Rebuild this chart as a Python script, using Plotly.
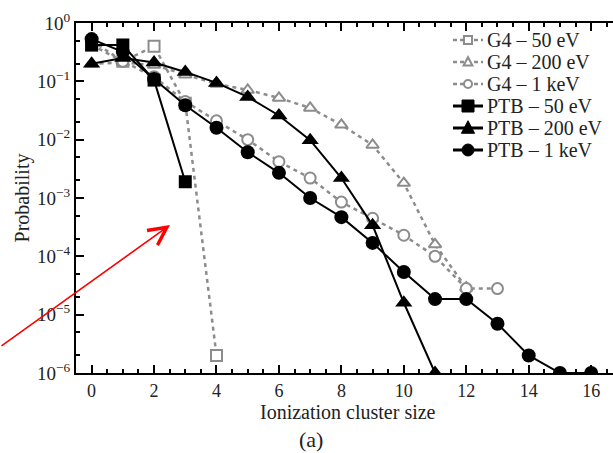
import plotly.graph_objects as go

# ---- data ----
g4_50_x = [0, 1, 2, 3, 4]
g4_50_y = [0.42, 0.22, 0.40, 0.042, 2e-6]

g4_200_x = [0, 1, 2, 3, 4, 5, 6, 7, 8, 9, 10, 11, 12]
g4_200_y = [0.2, 0.21, 0.19, 0.13, 0.09, 0.071, 0.052, 0.035, 0.018, 0.0081, 0.0018, 1.6e-4, 2.9e-5]

g4_1k_x = [0, 1, 2, 3, 4, 5, 6, 7, 8, 9, 10, 11, 12, 13]
g4_1k_y = [0.5, 0.22, 0.12, 0.045, 0.021, 0.0100, 0.0042, 0.0022, 8.5e-4, 4.5e-4, 2.3e-4, 1.0e-4, 2.8e-5, 2.8e-5]

ptb_50_x = [0, 1, 2, 3]
ptb_50_y = [0.42, 0.42, 0.105, 0.0019]

ptb_200_x = [0, 1, 2, 3, 4, 5, 6, 7, 8, 9, 10, 11]
ptb_200_y = [0.2, 0.25, 0.21, 0.145, 0.094, 0.054, 0.026, 0.0098, 0.0022, 3.4e-4, 1.6e-5, 1e-6]

ptb_1k_x = [0, 1, 2, 3, 4, 5, 6, 7, 8, 9, 10, 11, 12, 13, 14, 15, 16]
ptb_1k_y = [0.53, 0.32, 0.11, 0.039, 0.016, 0.0061, 0.0027, 0.00100, 4.7e-4, 1.7e-4, 5.4e-5, 1.85e-5, 1.85e-5, 7e-6, 2e-6, 1e-6, 1e-6]

series_names = ["G4 – 50 eV", "G4 – 200 eV", "G4 – 1 keV",
                "PTB – 50 eV", "PTB – 200 eV", "PTB – 1 keV"]

x_tickvals = [0, 2, 4, 6, 8, 10, 12, 14, 16]
y_tickvals = [1e-6, 1e-5, 1e-4, 1e-3, 1e-2, 1e-1, 1]
y_ticktext = ["10<sup>−6</sup>", "10<sup>−5</sup>", "10<sup>−4</sup>", "10<sup>−3</sup>",
              "10<sup>−2</sup>", "10<sup>−1</sup>", "10<sup>0</sup>"]

GRAY = "#8c8c8c"
FONT = "Liberation Serif"
TXT = "#222"

# plot area geometry (pixels) used to place the hand-made legend
L, T, W, H = 76, 23, 537, 350

def px_x(p):
    return (p - L) / W

def px_y(p):
    return (T + H - p) / H

fig = go.Figure()

def g4(x, y, name, symbol):
    fig.add_trace(go.Scatter(
        x=x, y=y, name=name, mode="lines+markers", showlegend=False,
        line=dict(color=GRAY, width=2.5, dash="4px,4px"),
        marker=dict(symbol=symbol, size=11, color="white",
                    line=dict(color=GRAY, width=2)),
    ))

def ptb(x, y, name, symbol, size):
    fig.add_trace(go.Scatter(
        x=x, y=y, name=name, mode="lines+markers", showlegend=False,
        line=dict(color="black", width=2),
        marker=dict(symbol=symbol, size=size, color="black"),
    ))

g4(g4_50_x, g4_50_y, series_names[0], "square")
g4(g4_200_x, g4_200_y, series_names[1], "triangle-up")
g4(g4_1k_x, g4_1k_y, series_names[2], "circle")
ptb(ptb_50_x, ptb_50_y, series_names[3], "square", 13)
ptb(ptb_200_x, ptb_200_y, series_names[4], "triangle-up", 15)
ptb(ptb_1k_x, ptb_1k_y, series_names[5], "circle", 14)

fig.update_layout(
    width=613, height=453,
    margin=dict(l=L, r=613 - L - W, t=T, b=453 - T - H),
    paper_bgcolor="white", plot_bgcolor="white",
    font=dict(family=FONT, size=19, color=TXT),
    showlegend=False,
    xaxis=dict(
        range=[-0.5, 16.7], tickvals=x_tickvals,
        ticks="inside", ticklen=8, tickwidth=1.5, tickcolor="black",
        showline=True, linecolor="black", linewidth=2, mirror="ticks",
        showgrid=False, zeroline=False,
        minor=dict(dtick=0.5, ticks="inside", ticklen=4, tickcolor="black", showgrid=False),
        tickfont=dict(size=18),
    ),
    yaxis=dict(
        type="log", range=[-6, 0], tickvals=y_tickvals, ticktext=y_ticktext,
        ticks="inside", ticklen=8, tickwidth=1.5, tickcolor="black",
        showline=True, linecolor="black", linewidth=2,
        showgrid=False, zeroline=False,
        minor=dict(ticks="inside", ticklen=4, tickcolor="black", showgrid=False),
        title=dict(text="Probability", font=dict(size=20), standoff=2),
        tickfont=dict(size=19),
    ),
)

# x-axis title and panel label
fig.add_annotation(text="Ionization cluster size", xref="paper", yref="paper",
                   x=px_x(348), y=px_y(412), xanchor="center", yanchor="middle",
                   showarrow=False, font=dict(size=20, family=FONT, color=TXT))
fig.add_annotation(text="(a)", xref="paper", yref="paper",
                   x=px_x(311), y=px_y(439), xanchor="center", yanchor="middle",
                   showarrow=False, font=dict(size=22, family=FONT, color=TXT))

# ---- hand-made compact legend ----
row_y = [40, 62, 84, 106, 128, 150]
sym_cx = 468
styles = [
    ("gray", "square"), ("gray", "triangle"), ("gray", "circle"),
    ("black", "square"), ("black", "triangle"), ("black", "circle"),
]
for name, ry, (kind, shp) in zip(series_names, row_y, styles):
    ax_, ay_ = px_x(sym_cx), px_y(ry)
    col = GRAY if kind == "gray" else "black"
    common = dict(xref="paper", yref="paper", xsizemode="pixel", ysizemode="pixel",
                  xanchor=ax_, yanchor=ay_)
    fig.add_shape(type="line", x0=-15, x1=15, y0=0, y1=0,
                  line=dict(color=col, width=2.5 if kind == "gray" else 3,
                            dash="4px,3px" if kind == "gray" else "solid"),
                  **common)
    if kind == "gray":
        fill, lw, s = "white", 2, 8
    else:
        fill, lw, s = "black", 1, 12
    if shp == "square":
        fig.add_shape(type="rect", x0=-s / 2, x1=s / 2, y0=-s / 2, y1=s / 2,
                      fillcolor=fill, line=dict(color=col, width=lw), **common)
    elif shp == "circle":
        fig.add_shape(type="circle", x0=-s / 2, x1=s / 2, y0=-s / 2, y1=s / 2,
                      fillcolor=fill, line=dict(color=col, width=lw), **common)
    else:
        h = s * 0.55
        fig.add_shape(type="path",
                      path=f"M{-h},{-h * 0.8} L{h},{-h * 0.8} L0,{h * 1.1} Z",
                      fillcolor=fill, line=dict(color=col, width=lw), **common)
    fig.add_annotation(text=name, xref="paper", yref="paper",
                       x=px_x(485), y=ay_, xanchor="left", yanchor="middle",
                       showarrow=False, font=dict(size=20, family=FONT, color=TXT))

# red arrow (overlay in original image)
fig.add_annotation(text="", xref="paper", yref="paper", x=px_x(170), y=px_y(225),
                   ax=-176, ay=122, axref="pixel", ayref="pixel",
                   showarrow=True, arrowhead=5, arrowsize=2.2, arrowwidth=1.6,
                   arrowcolor="red")

fig.write_html("out.html")
